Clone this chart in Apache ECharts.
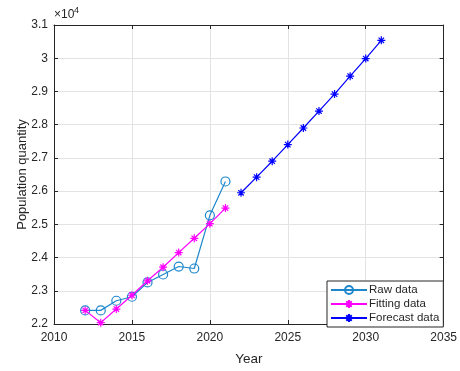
<!DOCTYPE html>
<html>
<head>
<meta charset="utf-8">
<script src="https://cdn.jsdelivr.net/npm/echarts@6/dist/echarts.min.js"></script>
<style>
  html, body { margin: 0; padding: 0; background: #fff; }
  #chart { width: 460px; height: 371px; }
</style>
</head>
<body>
<div id="chart"></div>
<script>
// values (population, ×10^4 shown on the axis)
const rawYears = [2012, 2013, 2014, 2015, 2016, 2017, 2018, 2019, 2020, 2021]
const rawValues = [22410, 22410, 22700, 22820, 23250, 23490, 23730, 23670, 25270, 26290]

const fitYears = [2012, 2013, 2014, 2015, 2016, 2017, 2018, 2019, 2020, 2021]
const fitValues = [22410, 22040, 22450, 22865, 23300, 23710, 24150, 24580, 25020, 25490]

const forecastYears = [2022, 2023, 2024, 2025, 2026, 2027, 2028, 2029, 2030, 2031]
const forecastValues = [25950, 26420, 26900, 27400, 27900, 28410, 28920, 29460, 29990, 30540]

const seriesNames = ['Raw data', 'Fitting data', 'Forecast data']

const FONT = '"Liberation Sans", Arial, sans-serif'
const TEXT = '#262626'
const GRID = '#e3e3e3'

// asterisk marker, drawn with strokes
const STAR = 'path://M5,0L5,10M0,5L10,5M1.6,1.6L8.4,8.4M1.6,8.4L8.4,1.6'

const pairs = (xs, ys) => xs.map((x, i) => [x, ys[i]])

const chart = echarts.init(document.getElementById('chart'))

const boxAxis = {
  axisLine: { show: true, lineStyle: { color: TEXT, width: 1 } },
  axisTick: { show: true, inside: true, length: 4, lineStyle: { color: TEXT } },
  axisLabel: { show: false },
  splitLine: { show: false },
}

const option = {
  animation: false,
  grid: { left: 54, right: 14.5, top: 25, bottom: 37 },
  xAxis: [
    {
      type: 'value',
      min: 2010,
      max: 2035,
      interval: 5,
      name: 'Year',
      nameLocation: 'middle',
      nameGap: 28,
      nameMoveOverlap: false,
      nameTextStyle: { color: TEXT, fontSize: 13.5, fontFamily: FONT },
      axisLine: { lineStyle: { color: TEXT, width: 1 } },
      axisTick: { inside: true, length: 4, lineStyle: { color: TEXT } },
      axisLabel: { color: TEXT, fontSize: 12, fontFamily: FONT, margin: 8, formatter: (v) => String(v) },
      splitLine: { show: true, lineStyle: { color: GRID, width: 1 } },
    },
    { type: 'value', min: 2010, max: 2035, interval: 5, position: 'top', ...boxAxis },
  ],
  yAxis: [
    {
      type: 'value',
      min: 22000,
      max: 31000,
      interval: 1000,
      name: 'Population quantity',
      nameLocation: 'middle',
      nameRotate: 90,
      nameGap: 25,
      nameMoveOverlap: false,
      nameTextStyle: { color: TEXT, fontSize: 13, fontFamily: FONT },
      axisLine: { show: true, lineStyle: { color: TEXT, width: 1 } },
      axisTick: { show: true, inside: true, length: 4, lineStyle: { color: TEXT } },
      axisLabel: {
        color: TEXT,
        fontSize: 12,
        fontFamily: FONT,
        margin: 6,
        formatter: (v) => String(+(v / 10000).toFixed(1)),
      },
      splitLine: { show: true, lineStyle: { color: GRID, width: 1 } },
    },
    { type: 'value', min: 22000, max: 31000, interval: 1000, position: 'right', ...boxAxis },
  ],
  legend: {
    data: seriesNames,
    orient: 'vertical',
    left: 327,
    top: 281,
    padding: [2, 4, 2, 3],
    itemGap: 0,
    itemWidth: 36,
    itemHeight: 10,
    backgroundColor: '#fff',
    borderColor: TEXT,
    borderWidth: 1,
    borderRadius: 0,
    textStyle: { color: TEXT, fontSize: 11.5, fontFamily: FONT, lineHeight: 14, padding: [0, 0, 0, -3] },
  },
  graphic: [
    {
      type: 'text',
      left: 54,
      top: 9,
      style: { text: '×10', fill: TEXT, font: '12px ' + FONT },
    },
    {
      type: 'text',
      left: 74,
      top: 6,
      style: { text: '4', fill: TEXT, font: '9px ' + FONT },
    },
  ],
  series: [
    {
      name: seriesNames[0],
      type: 'line',
      data: pairs(rawYears, rawValues),
      color: '#1d87cc',
      symbol: 'circle',
      symbolSize: 9,
      lineStyle: { width: 1.2, color: '#1d87cc' },
      itemStyle: { color: 'rgba(255,255,255,0)', borderColor: '#1d87cc', borderWidth: 1.2 },
      z: 3,
    },
    {
      name: seriesNames[1],
      type: 'line',
      data: pairs(fitYears, fitValues),
      color: '#ff00ff',
      symbol: STAR,
      symbolSize: 8,
      lineStyle: { width: 1.2, color: '#ff00ff' },
      itemStyle: { color: '#ff00ff', borderColor: '#ff00ff', borderWidth: 1.2 },
      z: 4,
    },
    {
      name: seriesNames[2],
      type: 'line',
      data: pairs(forecastYears, forecastValues),
      color: '#0000ff',
      symbol: STAR,
      symbolSize: 8,
      lineStyle: { width: 1.2, color: '#0000ff' },
      itemStyle: { color: '#0000ff', borderColor: '#0000ff', borderWidth: 1.2 },
      z: 4,
    },
  ],
}

chart.setOption(option)
</script>
</body>
</html>
